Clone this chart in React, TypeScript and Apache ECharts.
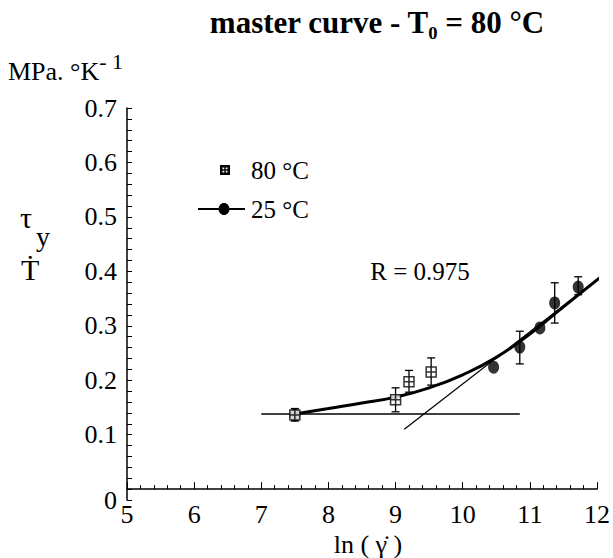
import React, { useEffect, useRef } from "react";
import * as echarts from "echarts";

const FONT = "'Liberation Serif', 'Times New Roman', 'DejaVu Serif', serif";

// 80 °C data (open squares with cross)
const hot80: number[][] = [
  [7.5, 0.136],
  [9.0, 0.164],
  [9.2, 0.197],
  [9.53, 0.215],
];
const hot80Err: number[][] = [
  [7.5, 0.125, 0.148],
  [9.0, 0.142, 0.186],
  [9.2, 0.178, 0.218],
  [9.53, 0.191, 0.241],
];

// 25 °C data (filled circles)
const cold25: number[][] = [
  [7.5, 0.136],
  [10.46, 0.224],
  [10.85, 0.261],
  [11.15, 0.296],
  [11.37, 0.342],
  [11.72, 0.371],
];
const cold25Err: number[][] = [
  [10.85, 0.23, 0.29],
  [11.37, 0.305, 0.379],
  [11.72, 0.357, 0.39],
];

// master curve
const masterCurve: number[][] = [
  [7.5, 0.138],
  [8.0, 0.148],
  [8.5, 0.158],
  [9.0, 0.169],
  [9.5, 0.186],
  [10.0, 0.21],
  [10.5, 0.242],
  [11.0, 0.285],
  [11.5, 0.335],
  [12.15, 0.399],
];

// asymptotes
const lowPlateau: number[][] = [
  [7.0, 0.138],
  [10.85, 0.138],
];
const highSlope: number[][] = [
  [9.13, 0.11],
  [12.15, 0.399],
];

const xTicks = { min: 5, max: 12, interval: 1 };
const yTicks = { min: -0.02, max: 0.7, interval: 0.02 };

function errRender(params: any, api: any) {
  const x = api.value(0);
  const lo = api.coord([x, api.value(1)]);
  const hi = api.coord([x, api.value(2)]);
  const w = 4;
  const style = { stroke: "#000", lineWidth: 1.3 };
  return {
    type: "group",
    children: [
      { type: "line", shape: { x1: lo[0], y1: lo[1], x2: hi[0], y2: hi[1] }, style },
      { type: "line", shape: { x1: hi[0] - w, y1: hi[1], x2: hi[0] + w, y2: hi[1] }, style },
      { type: "line", shape: { x1: lo[0] - w, y1: lo[1], x2: lo[0] + w, y2: lo[1] }, style },
    ],
  };
}

function yLabel(v: number) {
  if (Math.abs(v - yTicks.min) < 1e-6) return "0";
  const k = Math.round(v * 10);
  if (k >= 1 && Math.abs(v * 10 - k) < 1e-6) return (k / 10).toFixed(1);
  return "";
}

export default function App() {
  const ref = useRef<HTMLDivElement>(null);
  useEffect(() => {
    document.body.style.margin = "0";
    if (!ref.current) return;
    const chart = echarts.init(ref.current, undefined, { renderer: "svg" });
    const sq = "path://M0,0H10V10H0Z M5,0V10 M0,5H10";
    chart.setOption({
      animation: false,
      backgroundColor: "#fff",
      grid: { left: 127, right: 10, top: 108, bottom: 58, containLabel: false },
      xAxis: {
        type: "value",
        ...xTicks,
        axisLine: { lineStyle: { color: "#000", width: 1.5 } },
        axisTick: { inside: true, length: 7, lineStyle: { color: "#000", width: 1 } },
        minorTick: { show: true, splitNumber: 5, length: 4, lineStyle: { color: "#000", width: 1 } },
        splitLine: { show: false },
        axisLabel: { color: "#000", fontFamily: FONT, fontSize: 26, margin: 1 },
      },
      yAxis: {
        type: "value",
        ...yTicks,
        axisLine: { show: true, lineStyle: { color: "#000", width: 1.5 } },
        axisTick: { inside: true, length: 5, lineStyle: { color: "#000", width: 1 } },
        splitLine: { show: false },
        axisLabel: {
          color: "#000",
          fontFamily: FONT,
          fontSize: 26,
          margin: 10,
          interval: 0,
          formatter: yLabel,
        },
      },
      graphic: [
        {
          type: "text",
          x: 377,
          y: 22,
          style: {
            text: "master curve - T\u2080 = 80 °C",
            fontFamily: FONT,
            fontSize: 31,
            fontWeight: "bold",
            fill: "#000",
            align: "center",
            verticalAlign: "middle",
          },
        },
        {
          type: "text",
          x: 8,
          y: 50,
          style: {
            text: "{a|MPa. °K}{b|- 1}",
            fontFamily: FONT,
            rich: {
              a: { fontFamily: FONT, fontSize: 26, fill: "#000", verticalAlign: "bottom" },
              b: { fontFamily: FONT, fontSize: 22, fill: "#000", verticalAlign: "top", padding: [0, 0, 12, 0] },
            },
          },
        },
        { type: "text", x: 20, y: 202, style: { text: "τ", fontFamily: FONT, fontSize: 30, fill: "#000" } },
        { type: "text", x: 36, y: 222, style: { text: "y", fontFamily: FONT, fontSize: 28, fill: "#000" } },
        { type: "text", x: 21, y: 254, style: { text: "Ṫ", fontFamily: FONT, fontSize: 30, fill: "#000" } },
        {
          type: "text",
          x: 368,
          y: 544,
          style: { text: "ln ( γ̇ )", fontFamily: FONT, fontSize: 26, fill: "#000", align: "center", verticalAlign: "middle" },
        },
        {
          type: "text",
          x: 420,
          y: 271,
          style: { text: "R = 0.975", fontFamily: FONT, fontSize: 25, fill: "#000", align: "center", verticalAlign: "middle" },
        },
        // legend 80 °C
        {
          type: "group",
          x: 225,
          y: 170,
          children: [
            { type: "rect", shape: { x: -5, y: -5, width: 10, height: 10 }, style: { fill: "#000" } },
            { type: "rect", shape: { x: -2.5, y: -2.5, width: 1.8, height: 1.8 }, style: { fill: "#fff" } },
            { type: "rect", shape: { x: 0.7, y: -2.5, width: 1.8, height: 1.8 }, style: { fill: "#fff" } },
            { type: "rect", shape: { x: -2.5, y: 0.7, width: 1.8, height: 1.8 }, style: { fill: "#fff" } },
            { type: "rect", shape: { x: 0.7, y: 0.7, width: 1.8, height: 1.8 }, style: { fill: "#fff" } },
          ],
        },
        {
          type: "text",
          x: 251,
          y: 170,
          style: { text: "80 °C", fontFamily: FONT, fontSize: 25, fill: "#000", verticalAlign: "middle" },
        },
        // legend 25 °C
        { type: "line", shape: { x1: 198, y1: 209, x2: 245, y2: 209 }, style: { stroke: "#000", lineWidth: 2 } },
        { type: "ellipse", shape: { cx: 224, cy: 209, rx: 5.5, ry: 6 }, style: { fill: "#000" } },
        {
          type: "text",
          x: 251,
          y: 209,
          style: { text: "25 °C", fontFamily: FONT, fontSize: 25, fill: "#000", verticalAlign: "middle" },
        },
      ],
      series: [
        { type: "line", data: lowPlateau, symbol: "none", lineStyle: { color: "#000", width: 1.3 }, z: 2 },
        { type: "line", data: highSlope, symbol: "none", clip: false, lineStyle: { color: "#000", width: 1.3 }, z: 2 },
        {
          type: "line",
          data: masterCurve,
          smooth: 0.5,
          symbol: "none",
          clip: false,
          lineStyle: { color: "#000", width: 3 },
          z: 3,
        },
        { type: "custom", renderItem: errRender, data: hot80Err, z: 4 },
        { type: "custom", renderItem: errRender, data: cold25Err, z: 4 },
        {
          type: "scatter",
          data: cold25,
          symbol: "circle",
          symbolSize: [11, 13],
          itemStyle: { color: "#000" },
          z: 5,
        },
        {
          type: "scatter",
          data: hot80,
          symbol: sq,
          symbolSize: 10,
          itemStyle: { color: "#fff", borderColor: "#000", borderWidth: 1.5 },
          z: 6,
        },
      ],
    });
    return () => chart.dispose();
  }, []);
  return <div ref={ref} style={{ width: 613, height: 558 }} />;
}
